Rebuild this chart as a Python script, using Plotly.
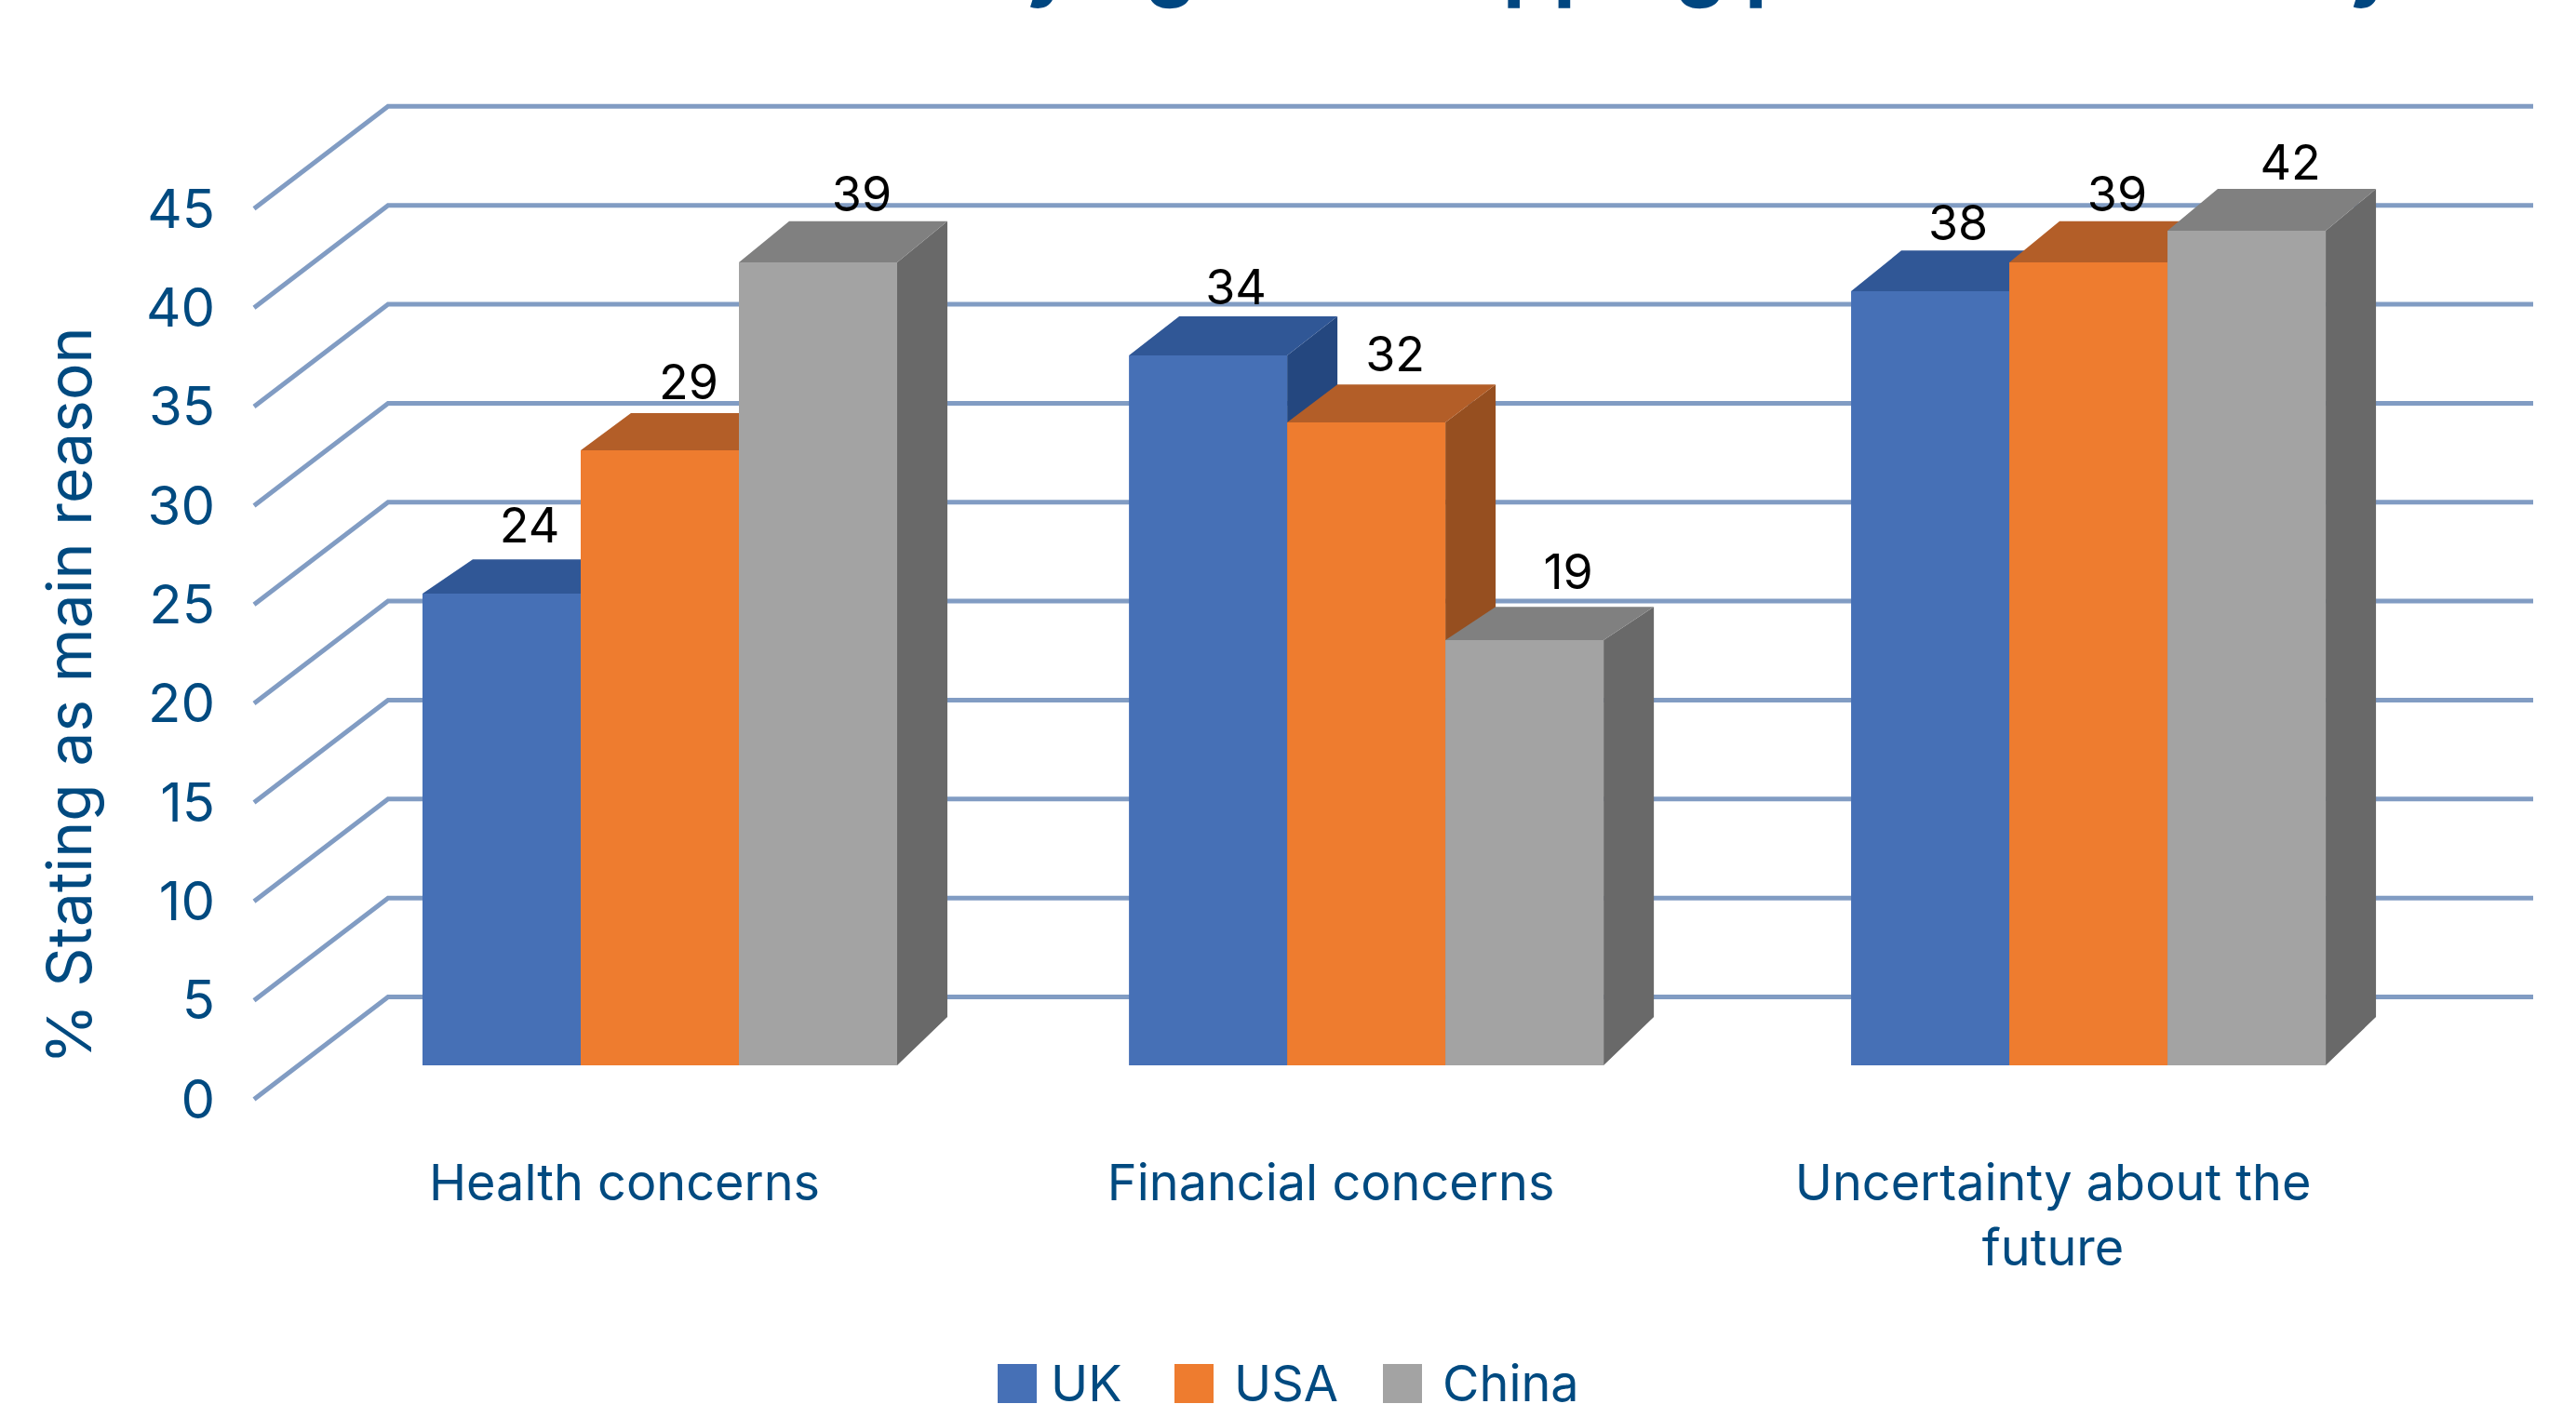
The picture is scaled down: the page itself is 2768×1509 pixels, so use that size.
import plotly.graph_objects as go

# ---- data ----
categories = ["Health concerns", "Financial concerns", "Uncertainty about the<br>future"]
series_names = ["UK", "USA", "China"]
uk_labels = [24, 34, 38]
usa_labels = [29, 32, 39]
china_labels = [39, 19, 42]
# drawn bar heights (axis units) as they appear in the picture
uk_heights = [23.84, 35.87, 39.12]
usa_heights = [31.08, 32.49, 40.57]
china_heights = [40.57, 21.49, 42.17]
y_ticks = [0, 5, 10, 15, 20, 25, 30, 35, 40, 45]

# ---- style / geometry ----
W, H = 2768, 1509
L, B = 232, 1235           # plot-area left and bottom, px
PX_X, PX_Y = 766.0, 21.27  # px per category, px per axis unit
X0_PX, Y0_PX = 671.0, 1181.5
NAVY = "#004A80"
TITLE_NAVY = "#004680"
GRID = "#819CC3"
FONT = "Inter"
front = ["#4670B6", "#EE7C2F", "#A3A3A3"]
top_c = ["#305796", "#B35E28", "#808080"]
side_c = ["#24477F", "#964F20", "#696969"]
cat_pos = [0, 0.991, 2.004]
bar_w = 170 / PX_X
group_off = -217 / PX_X
depth_x = 54 / PX_X
base = (Y0_PX - 1145) / PX_Y
side_rise = 52 / PX_Y
wall_front, wall_back, wall_end = (273 - X0_PX) / PX_X, (417 - X0_PX) / PX_X, (2722 - X0_PX) / PX_X
wall_rise = 110 / PX_Y
label_dx = [30 / PX_X, 31 / PX_X, 47 / PX_X]
label_dy = 68 / PX_Y


def top_rise(h):
    return (26 + 0.45 * h) / PX_Y


def px(x):
    return (x - L) / (W - L)


def py(y):
    return (B - y) / B


fig = go.Figure()

# walls / gridlines
gx, gy = [], []
for v in y_ticks:
    gx += [wall_front, wall_back, wall_end, None]
    gy += [v, v + wall_rise, v + wall_rise, None]
fig.add_trace(go.Scatter(x=gx, y=gy, mode="lines", line=dict(color=GRID, width=5),
                         hoverinfo="skip", showlegend=False, zorder=0))

heights = [uk_heights, usa_heights, china_heights]
labels = [uk_labels, usa_labels, china_labels]
for s, name in enumerate(series_names):
    lefts = [c + group_off + s * bar_w for c in cat_pos]
    tx, ty, sx, sy = [], [], [], []
    for x0, h in zip(lefts, heights[s]):
        x1 = x0 + bar_w
        t = base + h
        r = top_rise(h)
        tx += [x0, x0 + depth_x, x1 + depth_x, x1, x0, None]
        ty += [t, t + r, t + r, t, t, None]
        sx += [x1, x1 + depth_x, x1 + depth_x, x1, x1, None]
        sy += [t, t + r, base + side_rise, base, t, None]
    fig.add_trace(go.Scatter(x=sx, y=sy, mode="lines", fill="toself", fillcolor=side_c[s],
                             line=dict(width=0), hoverinfo="skip", showlegend=False, zorder=3 * s + 1))
    fig.add_trace(go.Scatter(x=tx, y=ty, mode="lines", fill="toself", fillcolor=top_c[s],
                             line=dict(width=0), hoverinfo="skip", showlegend=False, zorder=3 * s + 2))
    fig.add_trace(go.Bar(x=[l + bar_w / 2 for l in lefts], y=heights[s], base=base, width=bar_w,
                         name=name, marker=dict(color=front[s], line=dict(width=0)),
                         showlegend=False, zorder=3 * s + 3))

# data labels
for s, name in enumerate(series_names):
    lefts = [c + group_off + s * bar_w for c in cat_pos]
    fig.add_trace(go.Scatter(
        x=[l + bar_w / 2 + label_dx[s] for l in lefts],
        y=[base + h + label_dy for h in heights[s]],
        mode="text", text=[str(v) for v in labels[s]], textposition="middle center",
        textfont=dict(family=FONT, size=52, color="#000000"),
        hoverinfo="skip", showlegend=False, zorder=20))

annotations = [
    dict(text="Reasons for delaying and stopping purchases today", xref="paper", yref="paper",
         x=px(1490), y=py(0), xanchor="center", yanchor="bottom", yshift=-14, showarrow=False,
         font=dict(family=FONT, size=86, color=TITLE_NAVY, weight="bold")),
    dict(text="% Stating as main reason", xref="paper", yref="paper", x=px(74), y=py(748),
         xanchor="center", yanchor="middle", textangle=-90, showarrow=False,
         font=dict(family=FONT, size=66, color=NAVY)),
]
shapes = []
legend_box_px = [1072, 1262, 1486]
legend_text_px = [1127, 1324, 1548]
for s, name in enumerate(series_names):
    shapes.append(dict(type="rect", xref="paper", yref="paper", layer="above",
                       x0=px(legend_box_px[s]), x1=px(legend_box_px[s] + 42),
                       y0=py(1466), y1=py(1508), fillcolor=front[s], line=dict(width=0)))
    annotations.append(dict(text=name, xref="paper", yref="paper", x=px(legend_text_px[s]), y=py(1487),
                            xanchor="left", yanchor="middle", showarrow=False,
                            font=dict(family=FONT, size=54, color=NAVY)))

fig.update_layout(
    width=W, height=H, margin=dict(l=L, r=0, t=0, b=H - B, pad=0, autoexpand=False),
    paper_bgcolor="white", plot_bgcolor="white", barmode="overlay", showlegend=False,
    annotations=annotations, shapes=shapes,
    xaxis=dict(range=[(L - X0_PX) / PX_X, (W - X0_PX) / PX_X], tickmode="array", tickvals=cat_pos,
               ticktext=categories, showgrid=False, zeroline=False, showline=False,
               ticks="", tickangle=0,
               tickfont=dict(family=FONT, size=54, color=NAVY)),
    yaxis=dict(range=[(Y0_PX - B) / PX_Y, Y0_PX / PX_Y], tickmode="array", tickvals=y_ticks,
               ticktext=[str(v) for v in y_ticks], showgrid=False, zeroline=False, showline=False,
               ticks="", tickfont=dict(family=FONT, size=58, color=NAVY)),
)
fig.write_html("out.html", config={"displayModeBar": False},
               post_script="document.body.style.margin='0';document.documentElement.style.overflow='hidden';")
